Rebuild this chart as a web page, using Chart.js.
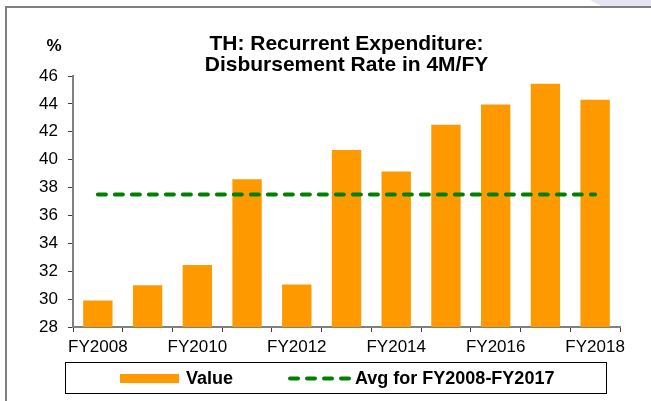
<!DOCTYPE html>
<html>
<head>
<meta charset="utf-8">
<script src="https://cdn.jsdelivr.net/npm/chart.js"></script>
<style>
  html, body { margin: 0; padding: 0; background: #fff; }
  #wrap { width: 651px; height: 401px; position: relative; }
</style>
</head>
<body>
<div id="wrap"><canvas id="rateChart" width="651" height="401"></canvas></div>
<script>
// values
const years = ['FY2008', 'FY2009', 'FY2010', 'FY2011', 'FY2012', 'FY2013',
               'FY2014', 'FY2015', 'FY2016', 'FY2017', 'FY2018'];
const rateValues = [29.9, 31.0, 32.45, 38.6, 31.05, 40.7, 39.15, 42.5, 43.95, 45.45, 44.3];
const avgValues = [37.5, 37.5, 37.5, 37.5, 37.5, 37.5, 37.5, 37.5, 37.5, 37.5, 37.5];
const titleLines = ['TH: Recurrent Expenditure:', 'Disbursement Rate in 4M/FY'];
const yTicks = [28, 30, 32, 34, 36, 38, 40, 42, 44, 46];

const FONT = "'Liberation Sans', Arial, Helvetica, sans-serif";
const ORANGE = '#FF9900';
const GREEN = '#008000';

// frame, corner shading, "%" label and the boxed legend
const decorPlugin = {
  id: 'decor',
  beforeDraw(chart) {
    const c = chart.ctx;
    c.save();
    c.fillStyle = '#e6e6f3';
    c.beginPath();
    c.moveTo(590, 0); c.lineTo(651, 0); c.lineTo(651, 7); c.lineTo(603, 7);
    c.closePath();
    c.fill();
    c.fillStyle = '#7f7f7f';
    c.fillRect(5, 6, 646, 2);
    c.fillRect(5, 6, 2, 395);
    c.restore();
  },
  afterDraw(chart) {
    const c = chart.ctx;
    const ds = chart.data.datasets;
    c.save();
    c.fillStyle = '#000';
    c.font = 'bold 17px ' + FONT;
    c.textAlign = 'center';
    c.textBaseline = 'middle';
    c.fillText('%', 54, 46);

    // legend box
    c.strokeStyle = '#000';
    c.lineWidth = 1;
    c.strokeRect(65.5, 362.5, 541, 31);

    c.fillStyle = ds[0].backgroundColor;
    c.fillRect(120, 374, 59, 9);

    c.strokeStyle = ds[1].borderColor;
    c.lineWidth = 4;
    c.lineCap = 'round';
    c.setLineDash([8, 9]);
    c.beginPath();
    c.moveTo(290, 378.5);
    c.lineTo(350, 378.5);
    c.stroke();
    c.setLineDash([]);

    c.fillStyle = '#000';
    c.textAlign = 'left';
    c.font = 'bold 18px ' + FONT;
    c.fillText(ds[0].label, 186, 379);
    c.fillText(ds[1].label, 355, 379);
    c.restore();
  }
};

new Chart(document.getElementById('rateChart').getContext('2d'), {
  type: 'bar',
  data: {
    labels: years,
    datasets: [{
      type: 'bar',
      label: 'Value',
      data: rateValues,
      backgroundColor: ORANGE,
      borderWidth: 0,
      barPercentage: 0.59,
      categoryPercentage: 1.0,
      order: 2
    }, {
      type: 'line',
      label: 'Avg for FY2008-FY2017',
      data: avgValues,
      borderColor: GREEN,
      borderWidth: 4,
      borderDash: [8, 9],
      borderCapStyle: 'round',
      pointRadius: 0,
      fill: false,
      order: 1
    }]
  },
  options: {
    responsive: false,
    animation: false,
    layout: { padding: { left: 13, right: 31, top: 0, bottom: 0 } },
    plugins: {
      legend: { display: false },
      tooltip: { enabled: false },
      title: {
        display: true,
        fullSize: false, // centre over the plot area, not the whole canvas
        text: titleLines,
        color: '#000',
        font: { family: FONT, size: 21, weight: 'bold', lineHeight: 1.0 },
        padding: { top: 34, bottom: 0 }
      }
    },
    scales: {
      x: {
        grid: { display: true, drawOnChartArea: false, offset: true, tickLength: 5, color: '#404040', lineWidth: 1 },
        border: { display: true, color: '#808080', width: 2 },
        ticks: {
          autoSkip: false,
          maxRotation: 0,
          padding: 5,
          color: '#000',
          font: { family: FONT, size: 17 },
          callback: function(value, index) {
            return index % 2 === 0 ? years[index] : '';
          }
        },
        afterFit: function(scale) { scale.height = 74; }
      },
      y: {
        min: 28,
        max: 46,
        afterBuildTicks: function(scale) {
          scale.ticks = yTicks.map(v => ({ value: v }));
        },
        grid: { display: true, drawOnChartArea: false, tickLength: 5, color: '#404040', lineWidth: 1 },
        border: { display: true, color: '#808080', width: 2 },
        ticks: {
          padding: 10,
          color: '#000',
          font: { family: FONT, size: 17 }
        },
        afterFit: function(scale) { scale.width = 60; }
      }
    }
  },
  plugins: [decorPlugin]
});
</script>
</body>
</html>
